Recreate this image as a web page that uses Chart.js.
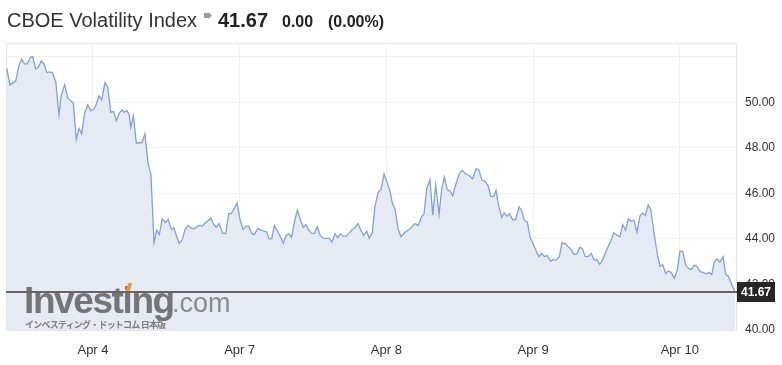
<!DOCTYPE html>
<html>
<head>
<meta charset="utf-8">
<script src="https://cdn.jsdelivr.net/npm/chart.js@4.4.0/dist/chart.umd.min.js"></script>
<style>
  html, body { margin: 0; padding: 0; background: #fff; }
  #wrap { position: relative; width: 782px; height: 365px; overflow: hidden; font-family: "Liberation Sans", Arial, sans-serif; }
  #c { position: absolute; left: 0; top: 0; }
  .title { position: absolute; top: 8px; white-space: nowrap; color: #333; }
  #t1 { left: 7px; font-size: 20px; top: 9px; }
  #t2 { left: 218px; font-size: 20px; font-weight: bold; top: 9px; color: #222; }
  #t3 { left: 282px; font-size: 16px; font-weight: bold; top: 13px; color: #222; }
  #t4 { left: 328px; font-size: 16px; font-weight: bold; top: 13px; color: #222; }
  #icon { position: absolute; left: 204px; top: 12px; width: 8px; height: 7px; background: #9a9a9a;
          clip-path: polygon(0 15%, 55% 15%, 55% 0, 100% 50%, 55% 100%, 55% 85%, 0 85%); }
  #wm { position: absolute; left: 6px; top: 250px; width: 731px; height: 80px; overflow: hidden; pointer-events: none; }
  #wm1 { position: absolute; left: 18px; top: 32px; font-size: 37px; font-weight: bold; letter-spacing: -1.4px; color: rgba(100,100,100,0.88); line-height: 1; }
  #wm2 { position: absolute; left: 166px; top: 40px; font-size: 27px; color: rgba(125,125,125,0.88); line-height: 1; }
  #wm3 { position: absolute; left: 19px; top: 70px; font-size: 9px; color: rgba(105,105,105,0.85); line-height: 1; font-family: "Noto Sans CJK JP", sans-serif; letter-spacing: -0.8px; font-weight: bold; }
  #wmdot { position: absolute; left: 121px; top: 33px; width: 4px; height: 8px; background: rgba(240,150,40,0.9); transform: skewX(-20deg); }
</style>
</head>
<body>
<div id="wrap">
  <canvas id="c" width="782" height="365"></canvas>
  <div id="t1" class="title">CBOE Volatility Index</div>
  <div id="icon"></div>
  <div id="t2" class="title">41.67</div>
  <div id="t3" class="title">0.00</div>
  <div id="t4" class="title">(0.00%)</div>
  <div id="wm">
    <div id="wm1">Investing</div>
    <div id="wm2">.com</div>
    <div id="wmdot"></div>
    <div id="wm3">インベスティング・ドットコム 日本版</div>
  </div>
</div>
<script>
// Session tick labels (x positions are session indices: Apr 4 = 1 ... Apr 10 = 5)
const sessionLabels = ['Apr 4', 'Apr 7', 'Apr 8', 'Apr 9', 'Apr 10'];
const sessionTicks = [1, 2, 3, 4, 5];
const yTicks = [40, 42, 44, 46, 48, 50, 52];
const lastPrice = 41.67;

// Time of each point, in sessions (fractional)
const times = [
0.412,0.434,0.473,0.496,0.514,0.532,0.552,0.573,0.589,0.609,0.627,0.648,0.666,0.686,0.707,0.725,0.746,0.768,0.784,0.807,
0.828,0.848,0.866,0.886,0.905,0.923,0.943,0.964,0.984,1.005,1.020,1.041,1.059,1.082,1.100,1.121,1.141,1.159,1.179,1.198,
1.213,1.232,1.247,1.257,1.276,1.295,1.314,1.334,1.354,1.375,1.395,1.416,1.434,1.452,1.472,1.493,1.513,1.534,1.552,1.571,
1.588,1.609,1.627,1.648,1.666,1.688,1.707,1.725,1.745,1.766,1.786,1.804,1.820,1.840,1.861,1.884,1.905,1.925,1.943,1.963,
1.982,2.002,2.023,2.043,2.061,2.082,2.100,2.123,2.145,2.166,2.184,2.200,2.218,2.236,2.256,2.279,2.297,2.316,2.334,2.354,
2.372,2.393,2.413,2.434,2.452,2.472,2.491,2.509,2.529,2.549,2.570,2.588,2.609,2.629,2.650,2.668,2.688,2.706,2.727,2.745,
2.766,2.786,2.806,2.827,2.845,2.866,2.883,2.904,2.922,2.943,2.963,2.984,3.006,3.025,3.040,3.059,3.081,3.100,3.127,3.161,
3.195,3.217,3.241,3.256,3.275,3.297,3.316,3.336,3.359,3.377,3.395,3.415,3.434,3.452,3.474,3.497,3.517,3.543,3.565,3.588,
3.611,3.629,3.652,3.672,3.695,3.711,3.733,3.747,3.766,3.786,3.804,3.822,3.838,3.861,3.881,3.904,3.922,3.940,3.961,3.981,
3.997,4.018,4.040,4.059,4.079,4.097,4.120,4.138,4.158,4.179,4.197,4.217,4.240,4.258,4.279,4.297,4.318,4.335,4.356,4.376,
4.397,4.415,4.434,4.454,4.474,4.495,4.515,4.531,4.549,4.572,4.592,4.611,4.631,4.649,4.669,4.688,4.708,4.729,4.747,4.765,
4.785,4.802,4.824,4.847,4.865,4.883,4.904,4.922,4.942,4.963,4.983,5.001,5.020,5.040,5.061,5.078,5.099,5.119,5.138,5.158,
5.179,5.197,5.218,5.235,5.254,5.274,5.295,5.313,5.333,5.354,5.376
];

// VIX values
const values = [
51.49,50.76,50.93,51.63,51.90,51.68,51.68,51.97,52.00,51.46,51.53,51.81,51.68,51.30,51.33,51.27,50.90,49.44,50.32,50.77,
50.18,50.07,49.96,48.38,48.84,48.61,49.52,49.88,49.63,49.69,49.88,50.28,50.10,50.86,50.66,49.56,49.59,49.19,49.52,49.66,
49.56,49.63,49.44,48.90,49.40,48.21,48.22,48.23,48.61,47.33,46.82,43.83,44.38,44.19,44.88,44.71,44.85,44.41,44.49,44.09,
43.80,43.97,44.41,44.59,44.49,44.44,44.53,44.59,44.56,44.71,44.81,44.92,44.67,44.51,44.67,44.24,44.24,45.11,45.11,45.33,
45.58,44.85,44.41,44.56,44.56,44.24,44.19,44.46,44.38,44.34,44.31,44.00,44.00,44.59,44.37,44.07,43.81,44.15,44.22,44.07,
44.71,45.26,44.85,44.51,44.62,44.37,44.25,44.24,44.53,44.15,44.03,44.02,44.02,43.86,44.24,44.06,44.22,44.12,44.12,44.24,
44.40,44.49,44.67,44.37,44.16,44.34,44.02,44.27,45.43,46.02,46.16,46.85,46.46,46.09,45.58,45.29,44.41,44.09,44.29,44.44,
44.67,44.59,44.99,45.07,46.19,46.60,45.04,46.38,45.07,46.19,46.72,46.16,46.09,45.90,46.41,46.86,47.01,46.85,46.77,46.64,
47.08,47.04,46.57,46.53,46.31,45.87,45.87,46.13,45.43,44.95,45.14,44.99,45.11,44.85,44.84,45.40,45.26,44.82,44.73,44.05,
43.83,43.51,43.22,43.36,43.22,43.27,43.02,43.10,43.07,43.22,43.83,43.80,43.65,43.54,43.32,43.33,43.62,43.59,43.22,43.23,
43.36,43.07,43.10,42.88,43.07,43.42,43.71,43.92,44.27,44.16,44.09,44.63,44.38,44.88,44.77,44.81,44.29,45.02,45.13,45.02,
45.49,45.29,44.27,43.32,42.80,42.87,42.49,42.59,42.52,42.27,42.63,43.46,43.45,42.84,42.69,42.66,42.85,42.78,42.56,42.53,
42.47,42.52,42.44,42.98,43.13,42.98,43.22,42.44,42.34,42.00,41.67
];

const points = times.map((t, i) => ({ x: t, y: values[i] }));

const framePlugin = {
  id: 'frame',
  beforeDatasetsDraw(chart) {
    const { ctx, chartArea: a } = chart;
    ctx.save();
    ctx.strokeStyle = '#e3e6ec';
    ctx.lineWidth = 1;
    ctx.strokeRect(a.left + 0.5, a.top + 0.5, a.right - a.left - 1, a.bottom - a.top);
    ctx.restore();
  }
};

const lastPricePlugin = {
  id: 'lastPrice',
  afterDatasetsDraw(chart) {
    const { ctx, chartArea: a } = chart;
    const y = Math.round(chart.scales.y.getPixelForValue(lastPrice));
    ctx.save();
    ctx.strokeStyle = '#4a3434';
    ctx.lineWidth = 1.6;
    ctx.beginPath();
    ctx.moveTo(a.left, y);
    ctx.lineTo(a.right, y);
    ctx.stroke();
    ctx.restore();
  },
  afterDraw(chart) {
    const { ctx, chartArea: a } = chart;
    const y = Math.round(chart.scales.y.getPixelForValue(lastPrice));
    ctx.save();
    ctx.fillStyle = '#262626';
    ctx.fillRect(a.right, y - 10, 38, 20);
    ctx.fillStyle = '#ffffff';
    ctx.font = 'bold 12px "Liberation Sans", Arial, sans-serif';
    ctx.textBaseline = 'middle';
    ctx.textAlign = 'left';
    ctx.fillText(lastPrice.toFixed(2), a.right + 4, y + 1);
    ctx.restore();
  }
};

new Chart(document.getElementById('c'), {
  type: 'line',
  data: {
    datasets: [{
      data: points,
      borderColor: 'rgb(125,163,214)',
      borderWidth: 1.3,
      backgroundColor: 'rgba(226,232,241,0.85)',
      fill: 'start',
      pointRadius: 0,
      tension: 0
    }]
  },
  options: {
    responsive: false,
    animation: false,
    layout: { padding: { top: 43, left: 6, right: 0, bottom: 0 } },
    plugins: { legend: { display: false }, tooltip: { enabled: false } },
    scales: {
      x: {
        type: 'linear',
        min: 0.407,
        max: 5.39,
        afterBuildTicks: (axis) => { axis.ticks = sessionTicks.map(v => ({ value: v })); },
        afterFit: (axis) => { axis.height = 35; },
        ticks: {
          autoSkip: false,
          maxRotation: 0,
          padding: 13,
          color: '#333',
          font: { family: '"Liberation Sans", Arial, sans-serif', size: 13 },
          callback: (v) => sessionLabels[sessionTicks.indexOf(v)] || ''
        },
        grid: { color: '#eef0f4', drawTicks: false },
        border: { display: false }
      },
      y: {
        position: 'right',
        min: 40,
        max: 52.6,
        afterBuildTicks: (axis) => { axis.ticks = yTicks.map(v => ({ value: v })); },
        afterFit: (axis) => { axis.width = 45; },
        ticks: {
          padding: 8,
          color: '#333',
          font: { family: '"Liberation Sans", Arial, sans-serif', size: 12 },
          callback: (v) => (v >= 52 ? '' : v.toFixed(2))
        },
        grid: { color: '#eef0f4', drawTicks: false },
        border: { display: false }
      }
    }
  },
  plugins: [framePlugin, lastPricePlugin]
});
</script>
</body>
</html>
